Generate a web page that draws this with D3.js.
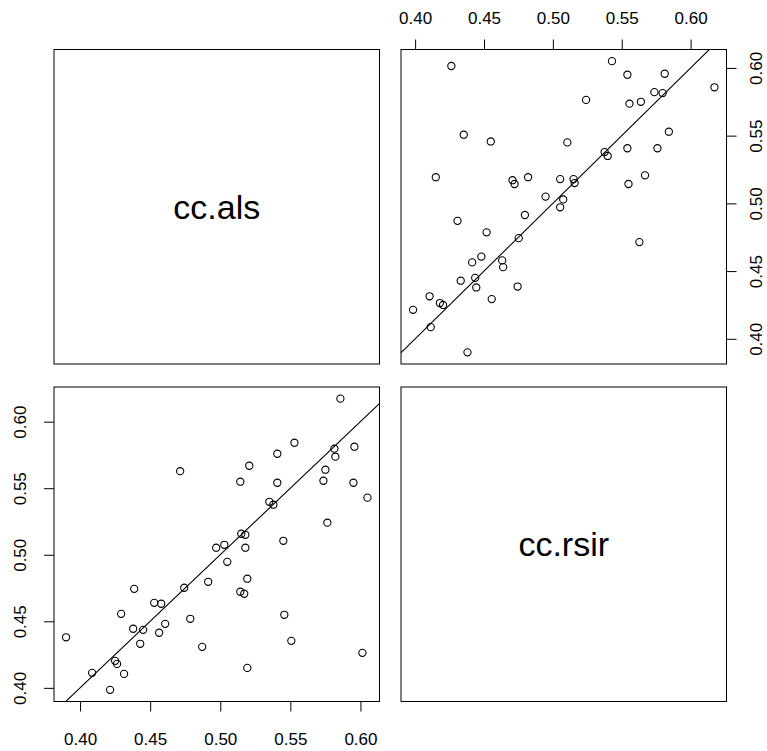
<!DOCTYPE html>
<html>
<head>
<meta charset="utf-8">
<script src="https://cdn.jsdelivr.net/npm/d3@7"></script>
<style>
  body { margin: 0; background: #fff; }
  svg { display: block; font-family: "Liberation Sans", Arial, sans-serif; }
</style>
</head>
<body>
<svg id="chart" width="767" height="751"></svg>
<script>
// variable names shown on the diagonal
const varNames = ['cc.als', 'cc.rsir'];

const ccAls = [
  0.5857, 0.5529, 0.5407, 0.5207, 0.5814, 0.5821, 0.5957, 0.5750, 0.5736, 0.5950,
  0.5143, 0.5407, 0.6050, 0.5350, 0.5379, 0.5764, 0.5150, 0.5179, 0.5450, 0.4971,
  0.5029, 0.5179, 0.4914, 0.4743, 0.4386, 0.4529, 0.4579, 0.4293, 0.4786, 0.4607,
  0.4379, 0.4450, 0.4564, 0.3900, 0.4429, 0.4871, 0.4250, 0.4264, 0.4086, 0.4314,
  0.4214, 0.5050, 0.5193, 0.5143, 0.5171, 0.5457, 0.5507, 0.6014, 0.5193, 0.4714
];
const ccRsir = [
  0.6173, 0.5842, 0.5759, 0.5669, 0.5797, 0.5737, 0.5812, 0.5639, 0.5556, 0.5541,
  0.5549, 0.5541, 0.5429, 0.5398, 0.5376, 0.5241, 0.5158, 0.5150, 0.5105, 0.5053,
  0.5075, 0.5053, 0.4797, 0.4752, 0.4744, 0.4639, 0.4632, 0.4556, 0.4519, 0.4481,
  0.4444, 0.4436, 0.4414, 0.4380, 0.4331, 0.4308, 0.4203, 0.4180, 0.4113, 0.4105,
  0.3985, 0.4947, 0.4820, 0.4722, 0.4707, 0.4549, 0.4353, 0.4263, 0.4150, 0.5628
];

const tickValues = [0.40, 0.45, 0.50, 0.55, 0.60];

// panel geometry
const colLeft = [54, 401];
const rowTop = [49.5, 387];
const W = 325.5, H = 314.5;
const tickLen = 10;

const svg = d3.select('#chart');

// R style range: data extent widened by 4% on each side
const padExtent = (v) => {
    const [lo, hi] = d3.extent(v);
    const d = hi - lo;
    return [lo - 0.04 * d, hi + 0.04 * d];
};

const alsDom = padExtent(ccAls);
const rsirDom = padExtent(ccRsir);

const xAls = d3.scaleLinear().domain(alsDom).range([colLeft[0], colLeft[0] + W]);
const xRsir = d3.scaleLinear().domain(rsirDom).range([colLeft[1], colLeft[1] + W]);
const yAls = d3.scaleLinear().domain(alsDom).range([rowTop[0] + H, rowTop[0]]);
const yRsir = d3.scaleLinear().domain(rsirDom).range([rowTop[1] + H, rowTop[1]]);

const fmt = d3.format('.2f');

// frames
[[0, 0], [1, 0], [0, 1], [1, 1]].forEach(([c, r]) => {
    svg.append('rect')
        .attr('x', colLeft[c])
        .attr('y', rowTop[r])
        .attr('width', W)
        .attr('height', H)
        .attr('fill', 'none')
        .attr('stroke', 'black')
        .attr('stroke-width', 1);
});

// diagonal labels
const diagText = (c, r, label) => {
    svg.append('text')
        .attr('x', colLeft[c] + W / 2)
        .attr('y', rowTop[r] + H / 2)
        .attr('text-anchor', 'middle')
        .attr('dominant-baseline', 'central')
        .attr('font-size', '34px')
        .attr('fill', 'black')
        .text(label);
};
diagText(0, 0, varNames[0]);
diagText(1, 1, varNames[1]);

// scatter panel with y = x reference line
const scatter = (id, c, r, xs, ys, xScale, yScale) => {
    svg.append('clipPath').attr('id', id)
        .append('rect')
        .attr('x', colLeft[c]).attr('y', rowTop[r])
        .attr('width', W).attr('height', H);

    const g = svg.append('g').attr('clip-path', `url(#${id})`);

    const lo = Math.min(xScale.domain()[0], yScale.domain()[0]);
    const hi = Math.max(xScale.domain()[1], yScale.domain()[1]);
    const line = d3.line()
        .x(d => xScale(d))
        .y(d => yScale(d));
    g.append('path')
        .datum([lo, hi])
        .attr('d', line)
        .attr('stroke', 'black')
        .attr('stroke-width', 1.1)
        .attr('fill', 'none');

    g.selectAll('circle')
        .data(d3.range(xs.length))
        .join('circle')
        .attr('cx', i => xScale(xs[i]))
        .attr('cy', i => yScale(ys[i]))
        .attr('r', 3.6)
        .attr('fill', 'none')
        .attr('stroke', 'black')
        .attr('stroke-width', 1.1);
};
scatter('clipTR', 1, 0, ccRsir, ccAls, xRsir, yAls);
scatter('clipBL', 0, 1, ccAls, ccRsir, xAls, yRsir);

// axes
const styleAxis = (g) => {
    g.select('.domain').remove();
    g.selectAll('line').attr('stroke', 'black');
    g.selectAll('text')
        .attr('fill', 'black')
        .attr('font-size', '17px')
        .attr('font-family', '"Liberation Sans", Arial, sans-serif');
};

// top axis of the upper right panel
svg.append('g')
    .attr('transform', `translate(0,${rowTop[0]})`)
    .call(d3.axisTop(xRsir).tickValues(tickValues).tickSize(tickLen).tickFormat(fmt))
    .call(styleAxis)
    .call(g => g.selectAll('text').attr('y', -25.5).attr('dy', 0));

// right axis of the upper right panel
svg.append('g')
    .attr('transform', `translate(${colLeft[1] + W},0)`)
    .call(d3.axisRight(yAls).tickValues(tickValues).tickSize(tickLen).tickFormat(fmt))
    .call(styleAxis)
    .call(g => g.selectAll('text')
        .attr('x', 0).attr('y', 0).attr('dy', '0.35em')
        .attr('text-anchor', 'middle')
        .attr('transform', 'translate(30,0) rotate(-90)'));

// bottom axis of the lower left panel
svg.append('g')
    .attr('transform', `translate(0,${rowTop[1] + H})`)
    .call(d3.axisBottom(xAls).tickValues(tickValues).tickSize(tickLen).tickFormat(fmt))
    .call(styleAxis)
    .call(g => g.selectAll('text').attr('y', 43).attr('dy', 0));

// left axis of the lower left panel
svg.append('g')
    .attr('transform', `translate(${colLeft[0]},0)`)
    .call(d3.axisLeft(yRsir).tickValues(tickValues).tickSize(tickLen).tickFormat(fmt))
    .call(styleAxis)
    .call(g => g.selectAll('text')
        .attr('x', 0).attr('y', 0).attr('dy', '0.35em')
        .attr('text-anchor', 'middle')
        .attr('transform', 'translate(-34,0) rotate(-90)'));
</script>
</body>
</html>
